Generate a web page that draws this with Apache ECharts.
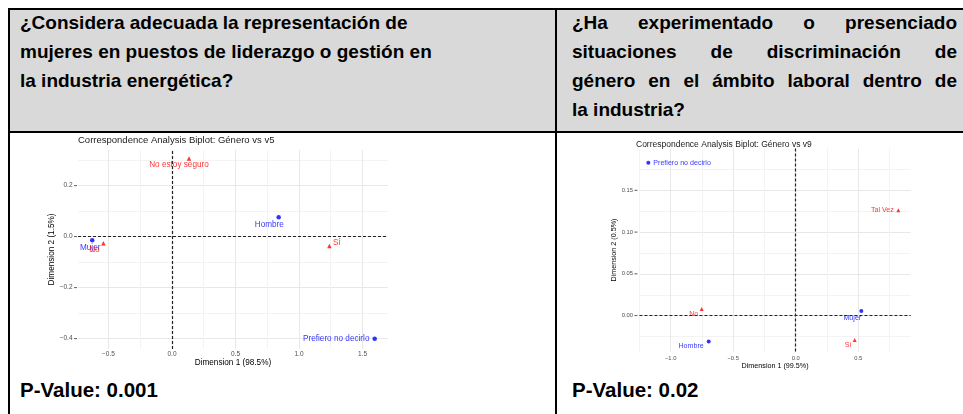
<!DOCTYPE html>
<html><head><meta charset="utf-8">
<script src="https://cdn.jsdelivr.net/npm/echarts@6/dist/echarts.min.js"></script>
<style>
html,body{margin:0;padding:0;background:#fff;}
#page{position:relative;width:963px;height:414px;overflow:hidden;background:#fff;font-family:'Liberation Sans',Arial,sans-serif;}
.ln{position:absolute;background:#000;}
.txt{position:absolute;font-weight:bold;font-size:19px;line-height:29px;color:#000;white-space:nowrap;}
.pv{font-size:20.5px;}
.j{text-align:justify;text-align-last:justify;white-space:normal;}
#chart{position:absolute;left:0;top:0;width:963px;height:414px;}
</style></head><body>
<div id="page">
  <div style="position:absolute;left:9px;top:9px;width:954px;height:123px;background:#d9d9d9"></div>
  <div class="txt" style="left:20px;top:8px">¿Considera adecuada la representación de<br>mujeres en puestos de liderazgo o gestión en<br>la industria energética?</div>
  <div class="txt" style="left:572px;top:8px;width:385px;white-space:normal">
    <div class="j">¿Ha experimentado o presenciado</div>
    <div class="j">situaciones de discriminación de</div>
    <div class="j">género en el ámbito laboral dentro de</div>
    <div>la industria?</div>
  </div>
  <div class="txt pv" id="p1" style="left:20px;top:375px"></div>
  <div class="txt pv" id="p2" style="left:572px;top:375px"></div>
  <div class="ln" style="left:8px;top:8px;width:955px;height:2px"></div>
  <div class="ln" style="left:8px;top:131px;width:955px;height:2px"></div>
  <div class="ln" style="left:8px;top:8px;width:2px;height:406px"></div>
  <div class="ln" style="left:555px;top:8px;width:2px;height:406px"></div>
  <div id="chart"></div>
</div>
<script>
// ---------- data ----------
const pValues = ['0.001', '0.02'];

const c1Title = 'Correspondence Analysis Biplot: Género vs v5';
const c1XName = 'Dimension 1 (98.5%)';
const c1YName = 'Dimension 2 (1.5%)';
const c1XTicks = [-0.5, 0.0, 0.5, 1.0, 1.5];
const c1YTicks = [-0.4, -0.2, 0.0, 0.2];
const c1RowNames = ['Mujer', 'Hombre', 'Prefiero no decirlo'];
const c1RowDim1 = [-0.628, 0.84, 1.596];
const c1RowDim2 = [-0.014, 0.076, -0.40];
const c1ColNames = ['No', 'No estoy seguro', 'Sí'];
const c1ColDim1 = [-0.54, 0.134, 1.239];
const c1ColDim2 = [-0.026, 0.307, -0.036];

const c2Title = 'Correspondence Analysis Biplot: Género vs v9';
const c2XName = 'Dimension 1 (99.5%)';
const c2YName = 'Dimension 2 (0.5%)';
const c2XTicks = [-1.0, -0.5, 0.0, 0.5];
const c2YTicks = [0.00, 0.05, 0.10, 0.15];
const c2RowNames = ['Mujer', 'Hombre', 'Prefiero no decirlo'];
const c2RowDim1 = [0.525, -0.696, -1.179];
const c2RowDim2 = [0.0056, -0.031, 0.183];
const c2ColNames = ['No', 'Sí', 'Tal Vez'];
const c2ColDim1 = [-0.752, 0.472, 0.821];
const c2ColDim2 = [0.008, -0.029, 0.126];

// ---------- presentation ----------
document.getElementById('p1').textContent = 'P-Value: ' + pValues[0];
document.getElementById('p2').textContent = 'P-Value: ' + pValues[1];

const FONT = 'Liberation Sans';
const BLUE = '#0000ff', RED = '#ff0000';
const MAJOR = '#e8e8e8', MINOR = '#f3f3f3', NONE = 'rgba(0,0,0,0)';

const layout = [
  { grid: {left: 78, top: 150, width: 309.9, height: 198.9},
    x: {min: -0.74, max: 1.70, step: 0.01, dec: 1}, y: {min: -0.44, max: 0.34, step: 0.01, dec: 1},
    title: {left: 78, top: 135.5, fs: 9.5}, tickFs: 6.5, nameFs: 8.2, labelFs: 8.2, sym: 4.5,
    xMargin: 2, yMargin: 1, xGap: 8, yGap: 18,
    place: {'Mujer': {dx: -2, dy: 7}, 'Hombre': {dx: -9.4, dy: 7}, 'Prefiero no decirlo': {pos: 'left', dist: 3},
            'No': {dx: -9, dy: 6}, 'No estoy seguro': {dx: -10, dy: 6.4}, 'Sí': {dx: 7.4, dy: -3.3}} },
  { grid: {left: 639.45, top: 148.5, width: 271.25, height: 203.1},
    x: {min: -1.25, max: 0.92, step: 0.01, dec: 1}, y: {min: -0.043, max: 0.20, step: 0.001, dec: 2},
    title: {left: 636, top: 140.5, fs: 8.5}, tickFs: 5.8, nameFs: 7.2, labelFs: 7.1, sym: 4,
    xMargin: 4, yMargin: 2, xGap: 11, yGap: 20,
    place: {'Prefiero no decirlo': {pos: 'right', dist: 3}, 'Hombre': {pos: 'left', dist: 3, dy: 4},
            'Mujer': {dx: -9, dy: 7}, 'No': {dx: -8, dy: 5.3}, 'Sí': {dx: -6.7, dy: 4.7}, 'Tal Vez': {pos: 'left', dist: 2.5}} }
];

const charts = [
  {title: c1Title, xName: c1XName, yName: c1YName, xTicks: c1XTicks, yTicks: c1YTicks,
   rowNames: c1RowNames, rowX: c1RowDim1, rowY: c1RowDim2, colNames: c1ColNames, colX: c1ColDim1, colY: c1ColDim2},
  {title: c2Title, xName: c2XName, yName: c2YName, xTicks: c2XTicks, yTicks: c2YTicks,
   rowNames: c2RowNames, rowX: c2RowDim1, rowY: c2RowDim2, colNames: c2ColNames, colX: c2ColDim1, colY: c2ColDim2}
];

function near(a, b) { return Math.abs(a - b) < 1e-7; }
function gridColors(min, step, ticks) {
  const major = ticks[1] - ticks[0];
  const period = Math.round(major / step);
  const arr = [];
  for (let i = 0; i < period; i++) {
    const v = min + i * step;
    const r = v / major;
    if (near(r, Math.round(r))) arr.push(MAJOR);
    else if (near(r * 2, Math.round(r * 2))) arr.push(MINOR);
    else arr.push(NONE);
  }
  return arr;
}
function fmt(v, dec) { return v.toFixed(dec).replace('-', '\u2212'); }
function tickLabel(ticks, dec, withTick) {
  return function (v) {
    for (const t of ticks) {
      if (near(v, t)) {
        const s = fmt(t, dec);
        return withTick ? '{v|' + s + '}{g|}{t|}' : s;
      }
    }
    return '';
  };
}

const option = {animation: false, title: [], grid: [], xAxis: [], yAxis: [], series: []};

charts.forEach((c, i) => {
  const L = layout[i];
  option.title.push({text: c.title, left: L.title.left, top: L.title.top, padding: 0,
    textStyle: {fontFamily: FONT, fontSize: L.title.fs, fontWeight: 'normal', color: '#1a1a1a'}});
  option.grid.push(Object.assign({containLabel: false}, L.grid));
  option.xAxis.push({
    type: 'value', gridIndex: i, min: L.x.min, max: L.x.max, interval: L.x.step,
    axisLine: {show: false}, axisTick: {show: false},
    splitLine: {show: true, showMinLine: true, showMaxLine: false, lineStyle: {width: 1, color: gridColors(L.x.min, L.x.step, c.xTicks)}},
    axisLabel: {show: true, showMinLabel: true, showMaxLabel: true, margin: L.xMargin, fontFamily: FONT, fontSize: L.tickFs, color: '#4d4d4d',
      formatter: tickLabel(c.xTicks, L.x.dec, false)},
    name: c.xName, nameLocation: 'middle', nameGap: L.xGap,
    nameTextStyle: {fontFamily: FONT, fontSize: L.nameFs, color: '#000'}
  });
  option.yAxis.push({
    type: 'value', gridIndex: i, min: L.y.min, max: L.y.max, interval: L.y.step,
    axisLine: {show: false}, axisTick: {show: false},
    splitLine: {show: true, showMinLine: true, showMaxLine: false, lineStyle: {width: 1, color: gridColors(L.y.min, L.y.step, c.yTicks)}},
    axisLabel: {show: true, showMinLabel: true, showMaxLabel: true, margin: L.yMargin, fontFamily: FONT, fontSize: L.tickFs, color: '#4d4d4d',
      formatter: tickLabel(c.yTicks, L.y.dec, true),
      rich: {v: {fontFamily: FONT, fontSize: L.tickFs, color: '#4d4d4d'},
             g: {width: 1.5, height: 1},
             t: {width: 3, height: 0.8, backgroundColor: '#333', verticalAlign: 'middle'}}},
    name: c.yName, nameLocation: 'middle', nameGap: L.yGap,
    nameTextStyle: {fontFamily: FONT, fontSize: L.nameFs, color: '#000'}
  });
  const mkData = (names, xs, ys) => names.map((n, k) => {
    const p = L.place[n] || {dx: 0, dy: 0};
    const lab = p.pos ? {position: p.pos, distance: p.dist, offset: [0, p.dy || 0]}
                      : {position: 'inside', offset: [p.dx, p.dy]};
    return {name: n, value: [xs[k], ys[k]], label: lab};
  });
  option.series.push({
    type: 'scatter', xAxisIndex: i, yAxisIndex: i, symbol: 'circle', symbolSize: L.sym,
    itemStyle: {color: BLUE}, z: 3,
    label: {show: true, formatter: '{b}', fontFamily: FONT, fontSize: L.labelFs, color: BLUE},
    data: mkData(c.rowNames, c.rowX, c.rowY),
    markLine: {silent: true, symbol: 'none', animation: false, label: {show: false},
      lineStyle: {color: '#222', width: 1.2, type: [3, 2]},
      data: [{xAxis: 0}, {yAxis: 0}]}
  });
  option.series.push({
    type: 'scatter', xAxisIndex: i, yAxisIndex: i, symbol: 'triangle', symbolSize: L.sym,
    itemStyle: {color: RED}, z: 4,
    label: {show: true, formatter: '{b}', fontFamily: FONT, fontSize: L.labelFs, color: RED},
    data: mkData(c.colNames, c.colX, c.colY)
  });
});

const chart = echarts.init(document.getElementById('chart'), null, {renderer: 'canvas'});
chart.setOption(option);
</script>
</body></html>
